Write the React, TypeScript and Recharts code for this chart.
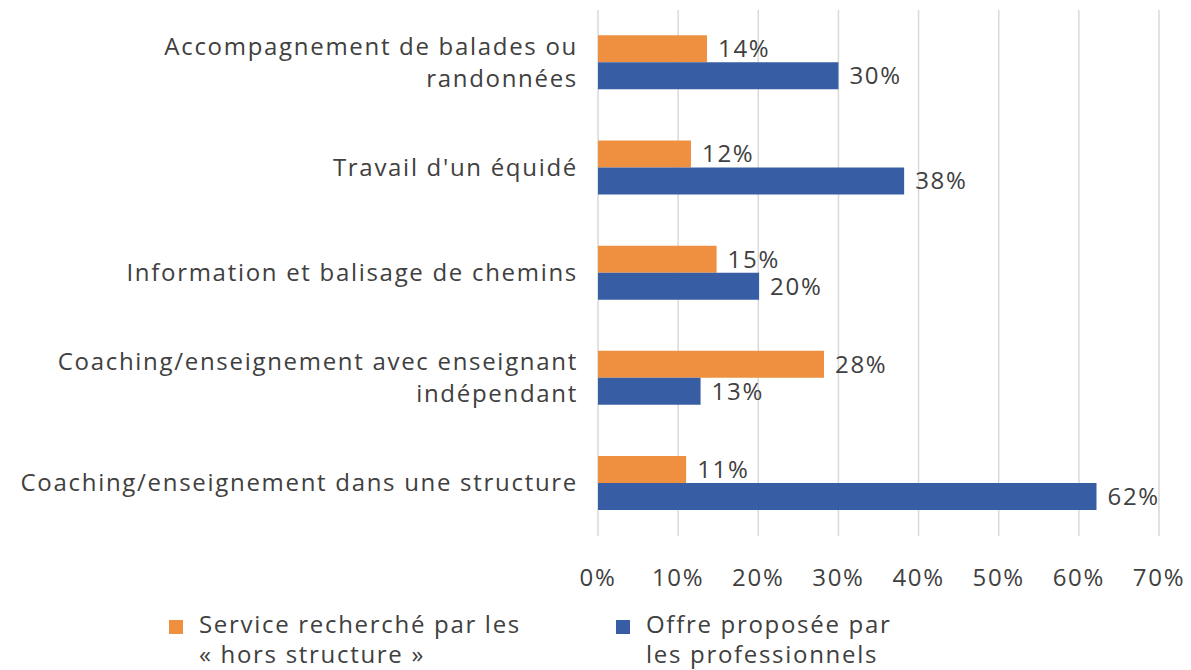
import { BarChart, Bar, XAxis, YAxis, CartesianGrid, LabelList } from "recharts";

const categories = [
  "Accompagnement de balades ou\nrandonnées",
  "Travail d'un équidé",
  "Information et balisage de chemins",
  "Coaching/enseignement avec enseignant\nindépendant",
  "Coaching/enseignement dans une structure",
];
const horsStructure = [13.6, 11.6, 14.8, 28.2, 11.0];
const professionnels = [30.0, 38.2, 20.1, 12.8, 62.2];
const xTicks = [0, 10, 20, 30, 40, 50, 60, 70];
const seriesNames = ["Service recherché par les\n« hors structure »", "Offre proposée par\nles professionnels"];

const ORANGE = "#EF9040";
const BLUE = "#375EA5";
const TEXT = "#404040";
const FONT = "'Open Sans', sans-serif";
const FS = 24;
const LS = 1.7;

const data = categories.map((c, i) => ({
  name: c,
  hors: horsStructure[i],
  pro: professionnels[i],
}));

function CategoryTick(props: any) {
  const { x, y, payload } = props;
  const lines: string[] = String(payload.value).split("\n");
  const lineH = 32;
  const start = -((lines.length - 1) * lineH) / 2;
  return (
    <text x={x} y={y} textAnchor="end" fill={TEXT} fontSize={FS} fontFamily={FONT} letterSpacing={LS}>
      {lines.map((l, i) => (
        <tspan key={i} x={x} dy={i === 0 ? start + 8 : lineH}>
          {l}
        </tspan>
      ))}
    </text>
  );
}

const pct = (v: any) => `${Math.round(Number(v))}%`;

export default function App() {
  return (
    <div style={{ position: "absolute", left: 0, top: 0, width: 1191, height: 670, background: "#fff", fontFamily: FONT }}>
      <BarChart
        width={1191}
        height={670}
        data={data}
        layout="vertical"
        margin={{ top: 10, right: 32, left: 0, bottom: 94 }}
        barCategoryGap="24%"
        barGap={0}
      >
        <CartesianGrid horizontal={false} stroke="#d9d9d9" strokeWidth={1.5} />
        <XAxis
          type="number"
          domain={[0, 70]}
          ticks={xTicks}
          tickFormatter={(v) => `${v}%`}
          axisLine={false}
          tickLine={false}
          tickSize={6}
          tickMargin={27}
          height={40}
          tick={{ fill: TEXT, fontSize: FS, fontFamily: FONT, letterSpacing: LS }}
        />
        <YAxis
          type="category"
          dataKey="name"
          width={598}
          axisLine={false}
          tickLine={false}
          tickSize={0}
          tickMargin={20}
          tick={<CategoryTick />}
        />
        <Bar dataKey="hors" fill={ORANGE} isAnimationActive={false}>
          <LabelList dataKey="hors" position="right" offset={11} formatter={pct} fill={TEXT} fontSize={FS} fontFamily={FONT} letterSpacing={LS} />
        </Bar>
        <Bar dataKey="pro" fill={BLUE} isAnimationActive={false}>
          <LabelList dataKey="pro" position="right" offset={11} formatter={pct} fill={TEXT} fontSize={FS} fontFamily={FONT} letterSpacing={LS} />
        </Bar>
      </BarChart>
      {seriesNames.map((n, i) => (
        <div
          key={i}
          style={{
            position: "absolute",
            left: i === 0 ? 169 : 616,
            top: 609,
            display: "flex",
            alignItems: "flex-start",
            color: TEXT,
            fontSize: FS,
            letterSpacing: LS,
            lineHeight: "30px",
          }}
        >
          <span
            style={{
              display: "inline-block",
              width: 14,
              height: 14,
              background: i === 0 ? ORANGE : BLUE,
              marginTop: 11,
              marginRight: 16,
            }}
          />
          <span style={{ whiteSpace: "pre" }}>{n}</span>
        </div>
      ))}
    </div>
  );
}
